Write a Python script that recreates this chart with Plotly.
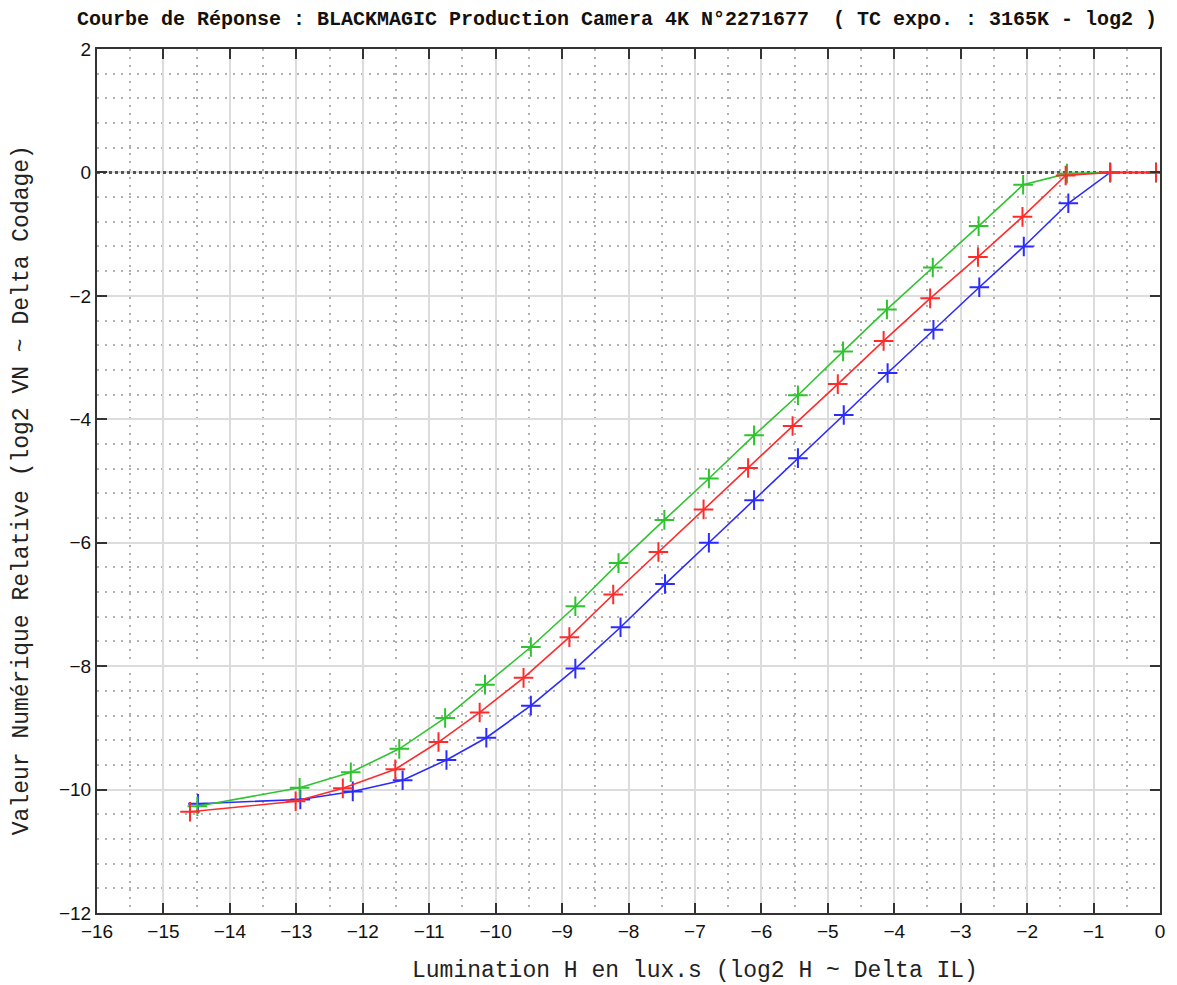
import plotly.graph_objects as go

# Data
green_x = [-14.49, -12.95, -12.18, -11.45, -10.76, -10.16, -9.47, -8.80, -8.15, -7.46, -6.79,
           -6.11, -5.45, -4.77, -4.11, -3.42, -2.73, -2.06, -1.40, -0.75, -0.06]
green_y = [-10.27, -9.97, -9.72, -9.34, -8.84, -8.30, -7.69, -7.03, -6.33, -5.63, -4.96,
           -4.26, -3.61, -2.90, -2.22, -1.54, -0.87, -0.20, -0.02, 0.0, 0.0]

red_x = [-14.60, -13.01, -12.30, -11.51, -10.86, -10.24, -9.58, -8.89, -8.23, -7.55, -6.87,
         -6.20, -5.53, -4.85, -4.16, -3.46, -2.74, -2.07, -1.42, -0.75, -0.06]
red_y = [-10.36, -10.19, -9.98, -9.67, -9.23, -8.75, -8.19, -7.53, -6.84, -6.15, -5.46,
         -4.79, -4.11, -3.43, -2.73, -2.04, -1.37, -0.72, -0.05, 0.0, 0.0]

blue_x = [-14.48, -12.94, -12.15, -11.40, -10.74, -10.14, -9.47, -8.80, -8.12, -7.45, -6.79,
          -6.11, -5.45, -4.76, -4.10, -3.41, -2.72, -2.05, -1.38, -0.75, -0.06]
blue_y = [-10.23, -10.16, -10.03, -9.85, -9.52, -9.16, -8.64, -8.04, -7.37, -6.67, -6.00,
          -5.31, -4.63, -3.93, -3.25, -2.55, -1.86, -1.20, -0.50, 0.0, 0.0]

x_ticks = list(range(-16, 1))
y_ticks = list(range(-12, 3, 2))
ref_level = 0.0

title_text = "Courbe de Réponse : BLACKMAGIC Production Camera 4K N°2271677  ( TC expo. : 3165K - log2 )"
x_title = "Lumination H en lux.s (log2 H ~ Delta IL)"
y_title = "Valeur Numérique Relative (log2 VN ~ Delta Codage)"

series = [
    ("Bleu", blue_x, blue_y, "#2b2bff"),
    ("Vert", green_x, green_y, "#2ec42e"),
    ("Rouge", red_x, red_y, "#ff2b2b"),
]

fig = go.Figure()
# dotted reference line at y = 0 (drawn first, under the curves)
fig.add_trace(go.Scatter(
    x=[x_ticks[0], x_ticks[-1]], y=[ref_level, ref_level], mode="lines",
    line=dict(color="#555555", width=3, dash="3px,3px"), showlegend=False, hoverinfo="skip",
))
for name, xs, ys, col in series:
    fig.add_trace(go.Scatter(
        x=xs, y=ys, mode="lines+markers", name=name,
        line=dict(color=col, width=1.6),
        marker=dict(symbol="cross-thin", size=14, line=dict(color=col, width=2)),
        showlegend=False,
    ))

axis_common = dict(
    showline=True, linecolor="#333333", linewidth=2, mirror="ticks",
    ticks="inside", ticklen=10, tickwidth=2, tickcolor="#333333",
    showgrid=True, gridcolor="#dcdcdc", gridwidth=2,
    zeroline=False,
    tickfont=dict(family="Liberation Sans", size=19, color="#111111"),
)

fig.update_xaxes(
    range=[-16, 0], tickmode="array", tickvals=x_ticks,
    ticktext=[("−" + str(-v)) if v < 0 else str(v) for v in x_ticks],
    minor=dict(dtick=0.5, showgrid=True, gridcolor="#b0b0b0", griddash="2px,6px", gridwidth=1.5, ticks=""),
    **axis_common,
)
fig.update_yaxes(
    range=[-12, 2], tickmode="array", tickvals=y_ticks,
    ticktext=[("−" + str(-v)) if v < 0 else str(v) for v in y_ticks],
    minor=dict(dtick=0.4, tick0=0, showgrid=True, gridcolor="#b0b0b0", griddash="2px,6px", gridwidth=1.5, ticks=""),
    **axis_common,
)

fig.add_annotation(text=x_title, xref="paper", yref="paper", x=(697 - 97) / 1066, y=-(971 - 913) / 864,
                   xanchor="center", yanchor="middle", showarrow=False,
                   font=dict(family="Liberation Mono", size=23, color="#222222"))
fig.add_annotation(text=y_title, xref="paper", yref="paper", x=-(97 - 22) / 1066, y=(913 - 490) / 864,
                   xanchor="center", yanchor="middle", showarrow=False, textangle=-90,
                   font=dict(family="Liberation Mono", size=23, color="#222222"))

fig.update_layout(
    width=1177, height=985,
    margin=dict(l=97, r=14, t=49, b=72),
    paper_bgcolor="white", plot_bgcolor="white",
    title=dict(text="<b>" + title_text + "</b>", x=617 / 1177, xanchor="center",
               y=1 - 18 / 985, yanchor="middle",
               font=dict(family="Liberation Mono", size=20, color="#111111")),
)

fig.write_html("out.html")
